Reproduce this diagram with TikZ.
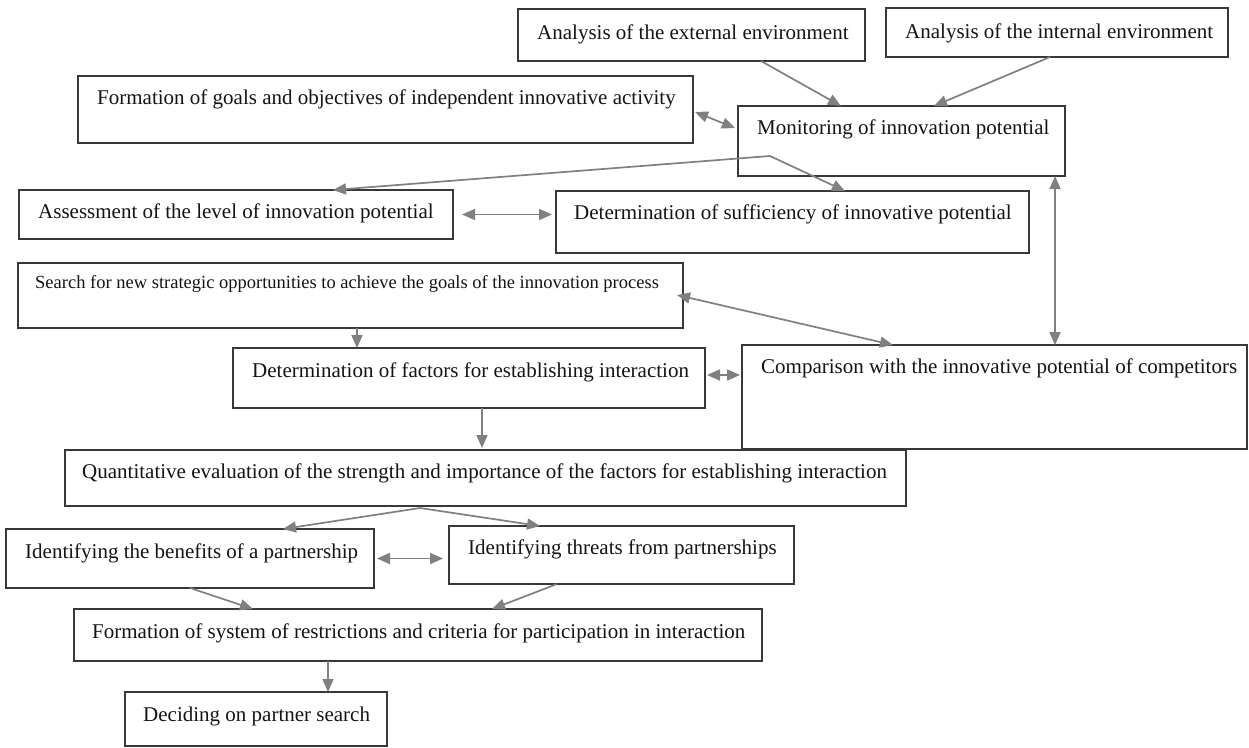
\documentclass[tikz,border=0pt]{standalone}
\usepackage{fontspec}
\setmainfont{Liberation Serif}
\usetikzlibrary{arrows.meta,calc}
\tikzset{
  box/.style={draw=black!78, line width=1.3pt, inner sep=0pt, outer sep=0pt, anchor=north west, rectangle},
  lbl/.style={anchor=mid west, inner sep=0pt, text=black!92, yshift=-4pt, font=\fontsize{21}{25}\selectfont},
  smalllbl/.style={lbl, font=\fontsize{18.5}{22}\selectfont},
  tip/.tip={Triangle[length=13pt,width=11pt]},
  arr/.style={draw=black!50, line width=1.7pt, -tip},
  dbl/.style={draw=black!50, line width=1.7pt, tip-tip},
}
\begin{document}
\begin{tikzpicture}[x=1pt,y=-1pt]
\useasboundingbox[fill=white] (0,0) rectangle (1249,747);
% boxes
\node[box, minimum width=347pt, minimum height=52pt] (ext) at (518,9) {};
\node[box, minimum width=342pt, minimum height=49pt] (int) at (886,8) {};
\node[box, minimum width=615pt, minimum height=67pt] (form) at (78,76) {};
\node[box, minimum width=327pt, minimum height=70pt] (mon) at (738,106) {};
\node[box, minimum width=434pt, minimum height=49pt] (assess) at (19,190) {};
\node[box, minimum width=473pt, minimum height=62pt] (suff) at (556,191) {};
\node[box, minimum width=665pt, minimum height=65pt] (search) at (18,263) {};
\node[box, minimum width=472pt, minimum height=60pt] (fact) at (233,348) {};
\node[box, minimum width=505pt, minimum height=104pt] (comp) at (742,345) {};
\node[box, minimum width=841pt, minimum height=56pt] (quant) at (65,450) {};
\node[box, minimum width=368pt, minimum height=59pt] (ben) at (6,529) {};
\node[box, minimum width=345pt, minimum height=58pt] (thr) at (449,526) {};
\node[box, minimum width=688pt, minimum height=52pt] (sys) at (74,609) {};
\node[box, minimum width=262pt, minimum height=54pt] (dec) at (125,692) {};
% texts
\node[lbl] (ext-t) at (537,33) {Analysis of the external environment};
\node[lbl] (int-t) at (905,32) {Analysis of the internal environment};
\node[lbl] (form-t) at (97,98) {Formation of goals and objectives of independent innovative activity};
\node[lbl] (mon-t) at (757,128) {Monitoring of innovation potential};
\node[lbl] (assess-t) at (38,212) {Assessment of the level of innovation potential};
\node[lbl] (suff-t) at (574,213) {Determination of sufficiency of innovative potential};
\node[smalllbl] (search-t) at (35,282) {Search for new strategic opportunities to achieve the goals of the innovation process};
\node[lbl] (fact-t) at (252,371) {Determination of factors for establishing interaction};
\node[lbl] (comp-t) at (761,367) {Comparison with the innovative potential of competitors};
\node[lbl] (quant-t) at (82,472) {Quantitative evaluation of the strength and importance of the factors for establishing interaction};
\node[lbl] (ben-t) at (25,552) {Identifying the benefits of a partnership};
\node[lbl] (thr-t) at (468,548) {Identifying threats from partnerships};
\node[lbl] (sys-t) at (92,632) {Formation of system of restrictions and criteria for participation in interaction};
\node[lbl] (dec-t) at (143,715) {Deciding on partner search};
% split points
\coordinate (mapex) at ([xshift=32pt,yshift=20pt]mon.south west);
\coordinate (qapex) at ([xshift=355pt,yshift=-2pt]quant.south west);
% connectors
\draw[arr] ([xshift=243pt]ext.south west) -- ([xshift=103pt]mon.north west);
\draw[arr] ([xshift=164pt]int.south west) -- ([xshift=196pt]mon.north west);
\draw[dbl] ([xshift=2pt,yshift=31pt]form.south east) -- ([xshift=-3pt,yshift=-22pt]mon.north west);
\draw[arr] (mapex) -- ([xshift=314pt]assess.north west);
\draw[arr] (mapex) -- ([xshift=289pt]suff.north west);
\draw[dbl] ([xshift=9pt]assess.east) -- ([xshift=-4pt]assess.east -| suff.west);
\draw[dbl] ([xshift=-10pt]mon.south east) -- ([xshift=-10pt]mon.south east |- comp.north);
\draw[dbl] ([xshift=-6pt,yshift=-32pt]search.north east) -- ([xshift=151pt]comp.north west);
\draw[arr] ([xshift=339pt]search.south west) -- ([xshift=339pt]search.south west |- fact.north);
\draw[dbl] ([xshift=2pt,yshift=3pt]fact.east) -- ([xshift=-2pt,yshift=3pt]fact.east -| comp.west);
\draw[arr] ([xshift=249pt]fact.south west) -- ([xshift=249pt,yshift=2pt]fact.south west |- quant.north);
\draw[arr] (qapex) -- ([xshift=277pt]ben.north west);
\draw[arr] (qapex) -- ([xshift=91pt]thr.north west);
\draw[dbl] ([xshift=3pt]ben.east) -- ([xshift=-6pt]ben.east -| thr.west);
\draw[arr] ([xshift=184pt]ben.south west) -- ([xshift=179pt]sys.north west);
\draw[arr] ([xshift=108pt]thr.south west) -- ([xshift=418pt]sys.north west);
\draw[arr] ([xshift=254pt]sys.south west) -- ([xshift=254pt]sys.south west |- dec.north);
\end{tikzpicture}
\end{document}
